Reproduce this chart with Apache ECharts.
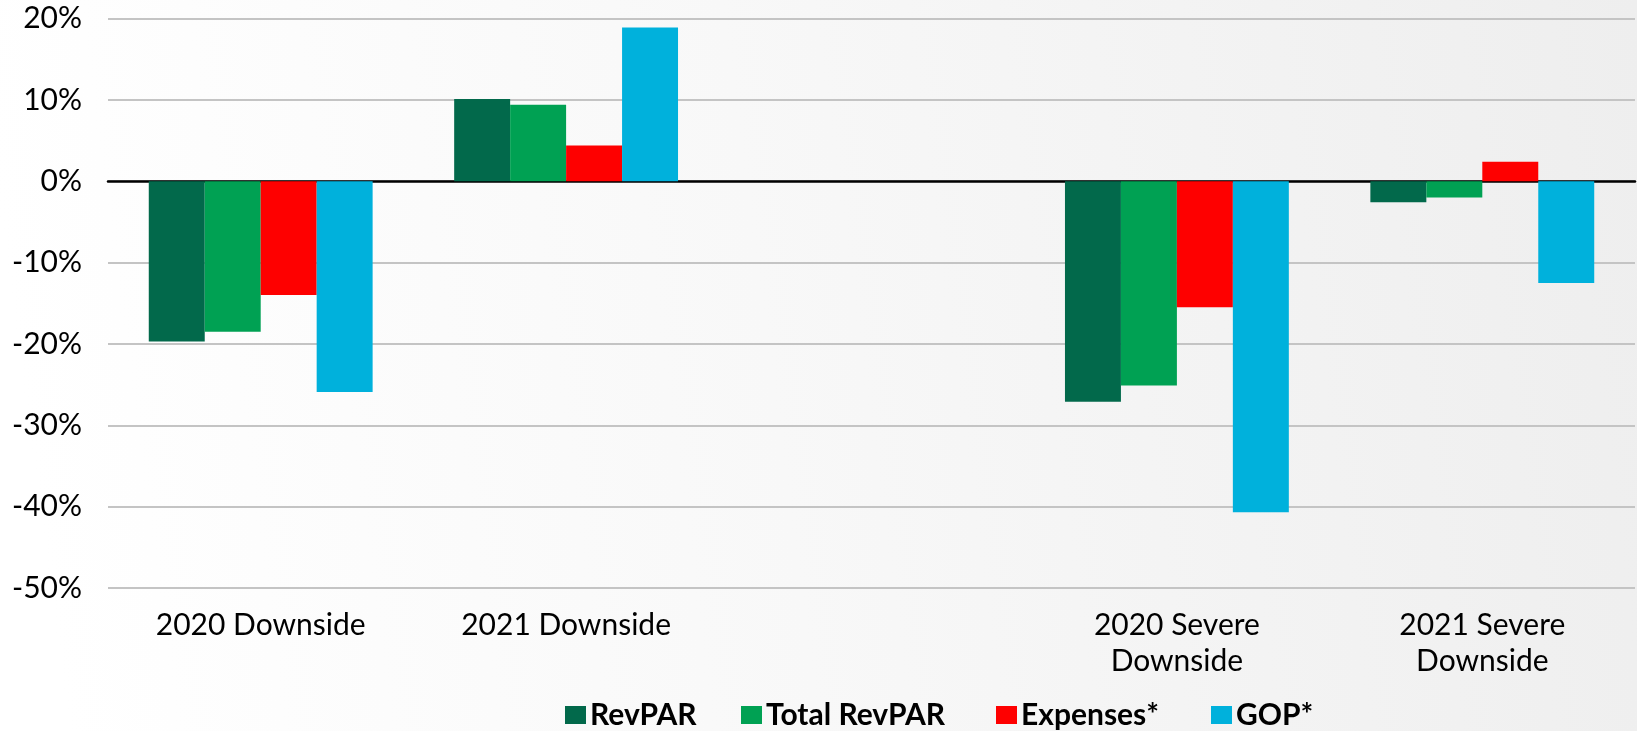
<!DOCTYPE html>
<html>
<head>
<meta charset="utf-8">
<script src="https://cdn.jsdelivr.net/npm/echarts@6/dist/echarts.min.js"></script>
<style>
html,body{margin:0;padding:0;background:#fff;}
#chart{width:1637px;height:731px;}
</style>
</head>
<body>
<div id="chart"></div>
<script>
const categories = ['2020 Downside', '2021 Downside', '', '2020 Severe\nDownside', '2021 Severe\nDownside'];
const revpar = [-19.7, 10.1, null, -27.1, -2.6];
const totalRevpar = [-18.5, 9.4, null, -25.1, -2.0];
const expenses = [-14.0, 4.4, null, -15.5, 2.4];
const gop = [-25.9, 18.9, null, -40.7, -12.5];
const seriesNames = ['RevPAR', 'Total RevPAR', 'Expenses*', 'GOP*'];
const colors = ['#02694B', '#00A153', '#FE0000', '#00B1DC'];
const yMin = -50, yMax = 20, yStep = 10;

const font = 'Lato, "Noto Sans", sans-serif';
const legendLeft = [560, 736, 991, 1206];
const chart = echarts.init(document.getElementById('chart'), null, {renderer: 'canvas'});
const seriesData = [revpar, totalRevpar, expenses, gop];
chart.setOption({
  animation: false,
  backgroundColor: {
    type: 'linear', x: 0, y: 0.3, x2: 1, y2: 0,
    colorStops: [
      {offset: 0, color: '#ffffff'},
      {offset: 0.45, color: '#f8f8f8'},
      {offset: 1, color: '#eeeeee'}
    ]
  },
  color: colors,
  grid: {left: 108, right: 2, top: 18.5, bottom: 143},
  legend: seriesNames.map((n, i) => ({
    data: [n],
    left: legendLeft[i],
    top: 695,
    icon: 'rect',
    itemWidth: 21,
    itemHeight: 18,
    textStyle: {fontFamily: font, fontSize: 30, fontWeight: 'bold', color: '#000', lineHeight: 30, padding: [0, 0, 0, -1]}
  })),
  xAxis: {
    type: 'category',
    data: categories,
    axisLine: {onZero: true, lineStyle: {color: '#000', width: 2.5}},
    axisTick: {show: false},
    axisLabel: {
      interval: 0,
      margin: 19,
      fontFamily: font,
      fontSize: 30,
      color: '#000',
      lineHeight: 36
    }
  },
  yAxis: {
    type: 'value',
    min: yMin, max: yMax, interval: yStep,
    axisLine: {show: false},
    axisTick: {show: false},
    axisLabel: {
      formatter: '{value}%',
      margin: 26,
      fontFamily: font,
      fontSize: 30,
      color: '#000'
    },
    splitLine: {lineStyle: {color: '#c4c4c4', width: 2}}
  },
  series: seriesNames.map((name, i) => ({
    name: name,
    type: 'bar',
    data: seriesData[i],
    barGap: '0%',
    barCategoryGap: '26.7%',
    itemStyle: {color: colors[i]}
  }))
});
</script>
</body>
</html>
